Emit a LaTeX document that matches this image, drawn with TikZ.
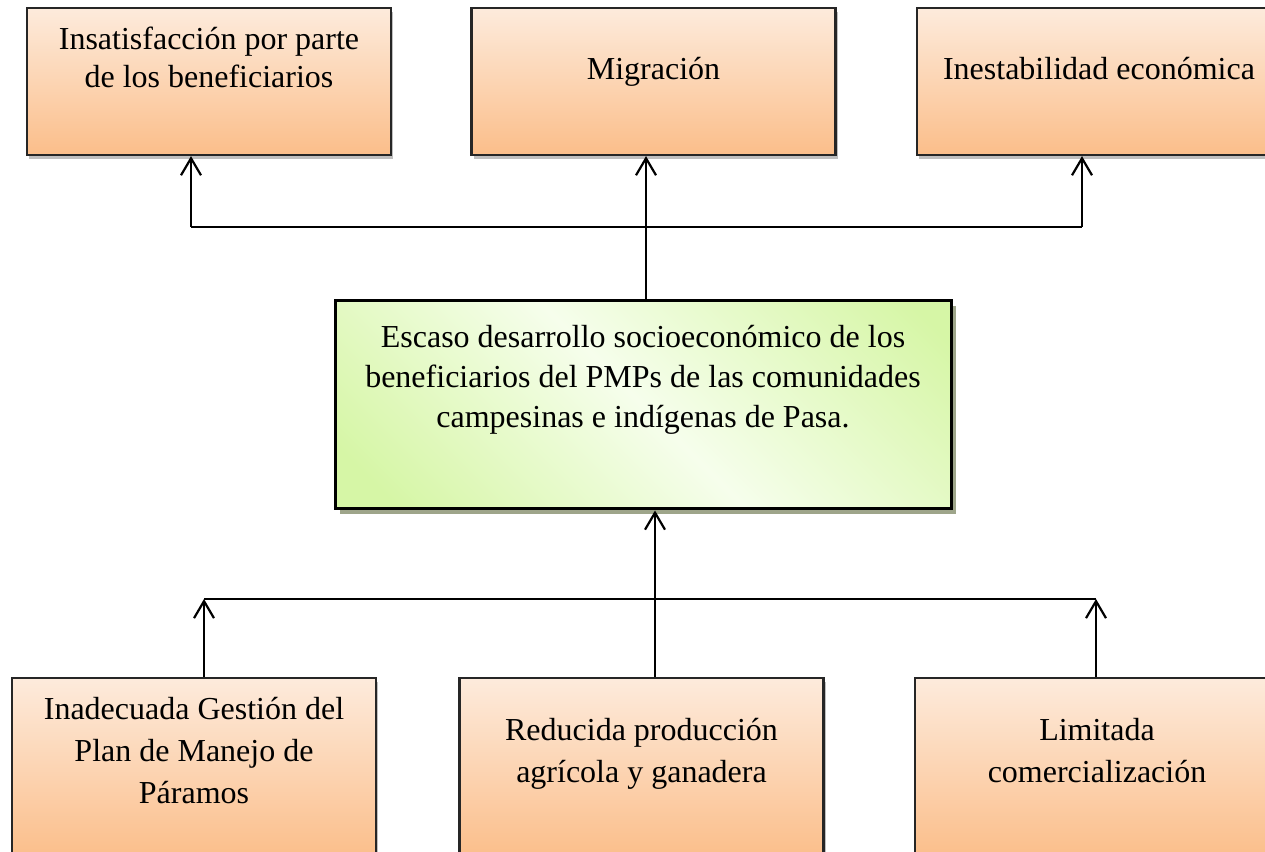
\documentclass[tikz,border=0pt]{standalone}
\usepackage{fontspec}
\setmainfont{Liberation Serif}
\usetikzlibrary{arrows.meta,shadows}
\definecolor{orTop}{HTML}{FDEBDC}
\definecolor{orBot}{HTML}{FBBE8A}
\definecolor{grA}{HTML}{D6F6A6}
\definecolor{grB}{HTML}{F6FEEC}
\definecolor{shdG}{HTML}{9EA58A}
\pgfdeclarehorizontalshading{gband}{100bp}{color(0bp)=(grA); color(20bp)=(grA); color(50bp)=(grB); color(82bp)=(grA); color(100bp)=(grA)}
\tikzset{
  obox/.style={draw=black!85, line width=2.2pt, top color=orTop, bottom color=orBot,
    minimum width=364pt, inner sep=0pt,
    drop shadow={shadow xshift=2pt, shadow yshift=-4pt, opacity=0.25, fill=black}},
  gbox/.style={draw=black, line width=3pt, shading=gband, shading angle=45,
    minimum width=616pt, minimum height=208pt, inner sep=0pt,
    drop shadow={shadow xshift=5pt, shadow yshift=-5pt, opacity=1, fill=shdG}},
  txt/.style={align=center, inner sep=0pt, font=\fontsize{32}{38}\selectfont, anchor=base},
  txtb/.style={txt, font=\fontsize{32}{42}\selectfont},
  con/.style={line width=2.2pt},
  arr/.style={line width=2.2pt, -{Straight Barb[length=17pt,width=20pt,line width=2.2pt]}}
}
\begin{document}
\begin{tikzpicture}[x=1pt,y=1pt]
\useasboundingbox (0,0) rectangle (1265,851);
\fill[white] (0,0) rectangle (1265,851);
% top boxes (y 8..155)
\node[obox, minimum height=147pt] (t1) at (209,769.5) {};
\node[obox, minimum height=147pt] (t2) at (653.5,769.5) {};
\node[obox, minimum height=147pt] (t3) at (1099,769.5) {};
% center box (y 301..509)
\node[gbox] (c) at (643,446) {};
% bottom boxes (y 678..)
\node[obox, minimum height=180pt] (b1) at (194,83) {};
\node[obox, minimum height=180pt] (b2) at (641.5,83) {};
\node[obox, minimum height=180pt] (b3) at (1097,83) {};
% texts (anchor = baseline of last line)
\node[txt] (t1x) at ([yshift=-81pt]t1.north) {Insatisfacción por parte\\de los beneficiarios};
\node[txt] (t2x) at ([yshift=-73pt]t2.north) {Migración};
\node[txt] (t3x) at ([yshift=-73pt]t3.north) {Inestabilidad económica};
\node[txt, font=\fontsize{32}{40}\selectfont] (cx) at ([yshift=-128pt]c.north) {Escaso desarrollo socioeconómico de los\\beneficiarios del PMPs de las comunidades\\campesinas e indígenas de Pasa.};
\node[txtb] (b1x) at ([yshift=-127pt]b1.north) {Inadecuada Gestión del\\Plan de Manejo de\\Páramos};
\node[txtb] (b2x) at ([yshift=-106pt]b2.north) {Reducida producción\\agrícola y ganadera};
\node[txtb] (b3x) at ([yshift=-106pt]b3.north) {Limitada\\comercialización};
% top connectors
\coordinate (hA) at (191,624);
\coordinate (hB) at (646,624);
\coordinate (hC) at (1082,624);
\draw[con] (c.north -| hB) -- (hB);
\draw[con] (hA) -- (hC);
\draw[arr] (hA) -- (hA |- t1.south);
\draw[arr] (hB) -- (hB |- t2.south);
\draw[arr] (hC) -- (hC |- t3.south);
% bottom connectors
\coordinate (lA) at (204,252);
\coordinate (lB) at (655,252);
\coordinate (lC) at (1096,252);
\draw[con] (lA) -- (lC);
\draw[arr] (b1.north -| lA) -- (lA);
\draw[arr] (b3.north -| lC) -- (lC);
\draw[arr] (b2.north -| lB) -- (c.south -| lB);
\end{tikzpicture}
\end{document}
